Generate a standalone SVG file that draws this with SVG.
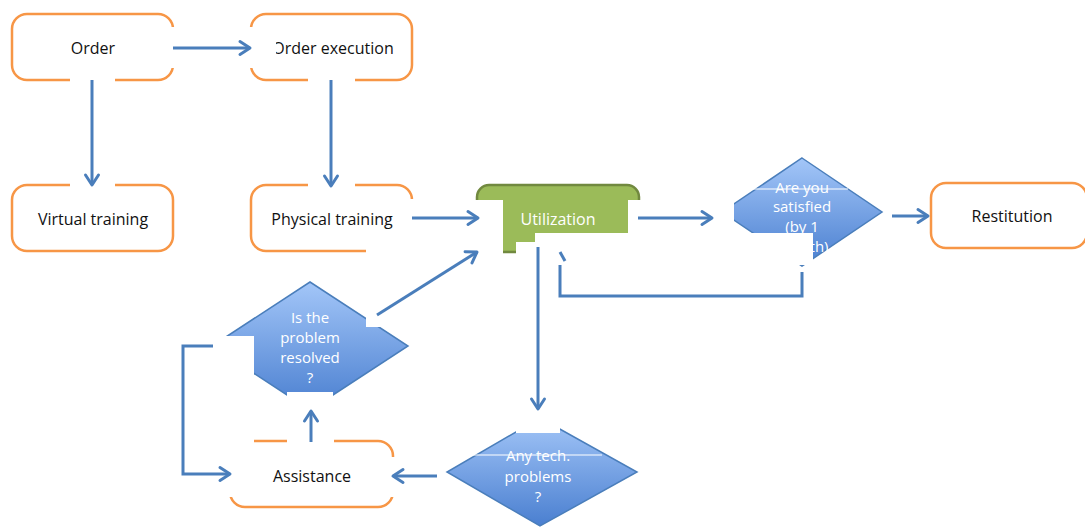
<svg xmlns="http://www.w3.org/2000/svg" width="1085" height="528" viewBox="0 0 1085 528">
<style>
.box{fill:#fff;stroke:#f79646;stroke-width:2.5}
.util{fill:#9bbb59;stroke:#71893f;stroke-width:2.5}
.dia{fill:url(#blue);stroke:#4a7ebb;stroke-width:1.5}
.t{font-family:"Open Sans","Liberation Sans",sans-serif;font-size:16px;fill:#111;text-anchor:middle;dominant-baseline:central}
.d{font-size:15px}
.w{fill:#fff}
.mask{fill:#fff;stroke:none}
.c{fill:none;stroke:#4a7ebb;stroke-width:3}
.a{marker-end:url(#ah)}
.strike{stroke:#fff;stroke-width:1.2}
</style>
<defs>
<linearGradient id="blue" x1="0" y1="0" x2="0" y2="1">
<stop offset="0" stop-color="#a3c6f8"/>
<stop offset="1" stop-color="#4a7fd0"/>
</linearGradient>
<marker id="ah" markerUnits="userSpaceOnUse" markerWidth="14" markerHeight="16" refX="11" refY="7" orient="auto" overflow="visible">
<path d="M1,0.5 L11,7 L1,13.5" fill="none" stroke="#4a7ebb" stroke-width="3" stroke-linecap="round" stroke-linejoin="round"/>
</marker>
</defs>
<rect width="1085" height="528" fill="#fff"/>

<g id="order"><rect class="box" x="12" y="14" width="161" height="66" rx="15"/>
<rect class="mask" x="165" y="27" width="15" height="41"/><rect class="mask" x="70" y="74" width="45" height="14"/>
<text class="t" x="93" y="48">Order</text></g>
<g id="order-execution"><rect class="box" x="251" y="14" width="161" height="66" rx="15"/>
<rect class="mask" x="308" y="74" width="47" height="14"/>
<text class="t" x="333" y="48">Order execution</text>
<rect class="mask" x="244" y="27" width="32" height="41"/></g>
<g id="virtual-training"><rect class="box" x="12" y="185" width="161" height="66" rx="15"/>
<rect class="mask" x="70" y="178" width="45" height="14"/>
<text class="t" x="93" y="219">Virtual training</text></g>
<g id="physical-training"><rect class="box" x="251" y="185" width="161" height="66" rx="15"/>
<rect class="mask" x="308" y="178" width="47" height="14"/><rect class="mask" x="366" y="199" width="52" height="60"/>
<text class="t" x="332" y="219">Physical training</text></g>
<g id="utilization"><rect class="util" x="477" y="185" width="162" height="67" rx="12"/>
<rect class="mask" x="468" y="200" width="35" height="60"/><rect class="mask" x="628" y="200" width="14" height="36"/><rect class="mask" x="516" y="242" width="22" height="20"/>
<text class="t w" x="558" y="219">Utilization</text></g>
<g id="satisfied"><polygon class="dia" points="802,158 882,212 802,266 722,212"/>
<rect class="mask" x="712" y="198" width="22" height="37"/>
<text class="t d w" x="802" y="187">Are you</text><text class="t d w" x="802" y="206">satisfied</text><text class="t d w" x="802" y="226">(by 1</text><text class="t d w" x="803" y="246">month)</text>
<line class="strike" x1="753" y1="189" x2="848" y2="189"/></g>
<g id="restitution"><rect class="box" x="931" y="183" width="156" height="65" rx="15"/><text class="t" x="1012" y="216">Restitution</text></g>
<g id="resolved"><polygon class="dia" points="310,282 408,346 310,410 212,346"/>
<rect class="mask" x="366" y="305" width="40" height="22"/><rect class="mask" x="287" y="392" width="46" height="22"/>
<text class="t d w" x="310" y="317">Is the</text><text class="t d w" x="310" y="337">problem</text><text class="t d w" x="310" y="357">resolved</text><text class="t d w" x="310" y="377">?</text></g>
<g id="assistance"><rect class="box" x="230" y="441" width="163" height="66" rx="15"/>
<rect class="mask" x="287" y="434" width="47" height="14"/><rect class="mask" x="386" y="457" width="14" height="40"/>
<text class="t" x="312" y="476">Assistance</text></g>
<g id="tech-problems"><polygon class="dia" points="540,418 637,472 540,526 447,472"/>
<rect class="mask" x="516" y="410" width="44" height="23"/>
<text class="t d w" x="538" y="455">Any tech.</text><text class="t d w" x="538" y="476">problems</text><text class="t d w" x="538" y="496">?</text>
<line class="strike" x1="473" y1="455" x2="602" y2="455"/></g>

<g id="masks">
<rect class="mask" x="535" y="233" width="278" height="32"/>
<rect class="mask" x="200" y="336" width="54" height="161"/>
</g>

<g id="connectors">
<line class="c a" x1="173" y1="48" x2="250" y2="48"/>
<line class="c a" x1="92" y1="80" x2="92" y2="185"/>
<line class="c a" x1="331" y1="80" x2="331" y2="186"/>
<line class="c a" x1="412" y1="218" x2="478" y2="218"/>
<line class="c a" x1="638" y1="218" x2="712" y2="218"/>
<line class="c a" x1="892" y1="216" x2="928" y2="216"/>
<line class="c a" x1="538" y1="247" x2="538" y2="409"/>
<line class="c a" x1="437" y1="476" x2="393" y2="476"/>
<line class="c a" x1="311" y1="442" x2="311" y2="411"/>
<polyline class="c a" points="213,346 183,346 183,474 230,474"/>
<line class="c a" x1="377" y1="315" x2="477" y2="252"/>
<polyline class="c" points="802,272 802,296 560,296 560,265"/>
<line class="c" x1="560" y1="252" x2="565" y2="261"/>
</g>
</svg>
